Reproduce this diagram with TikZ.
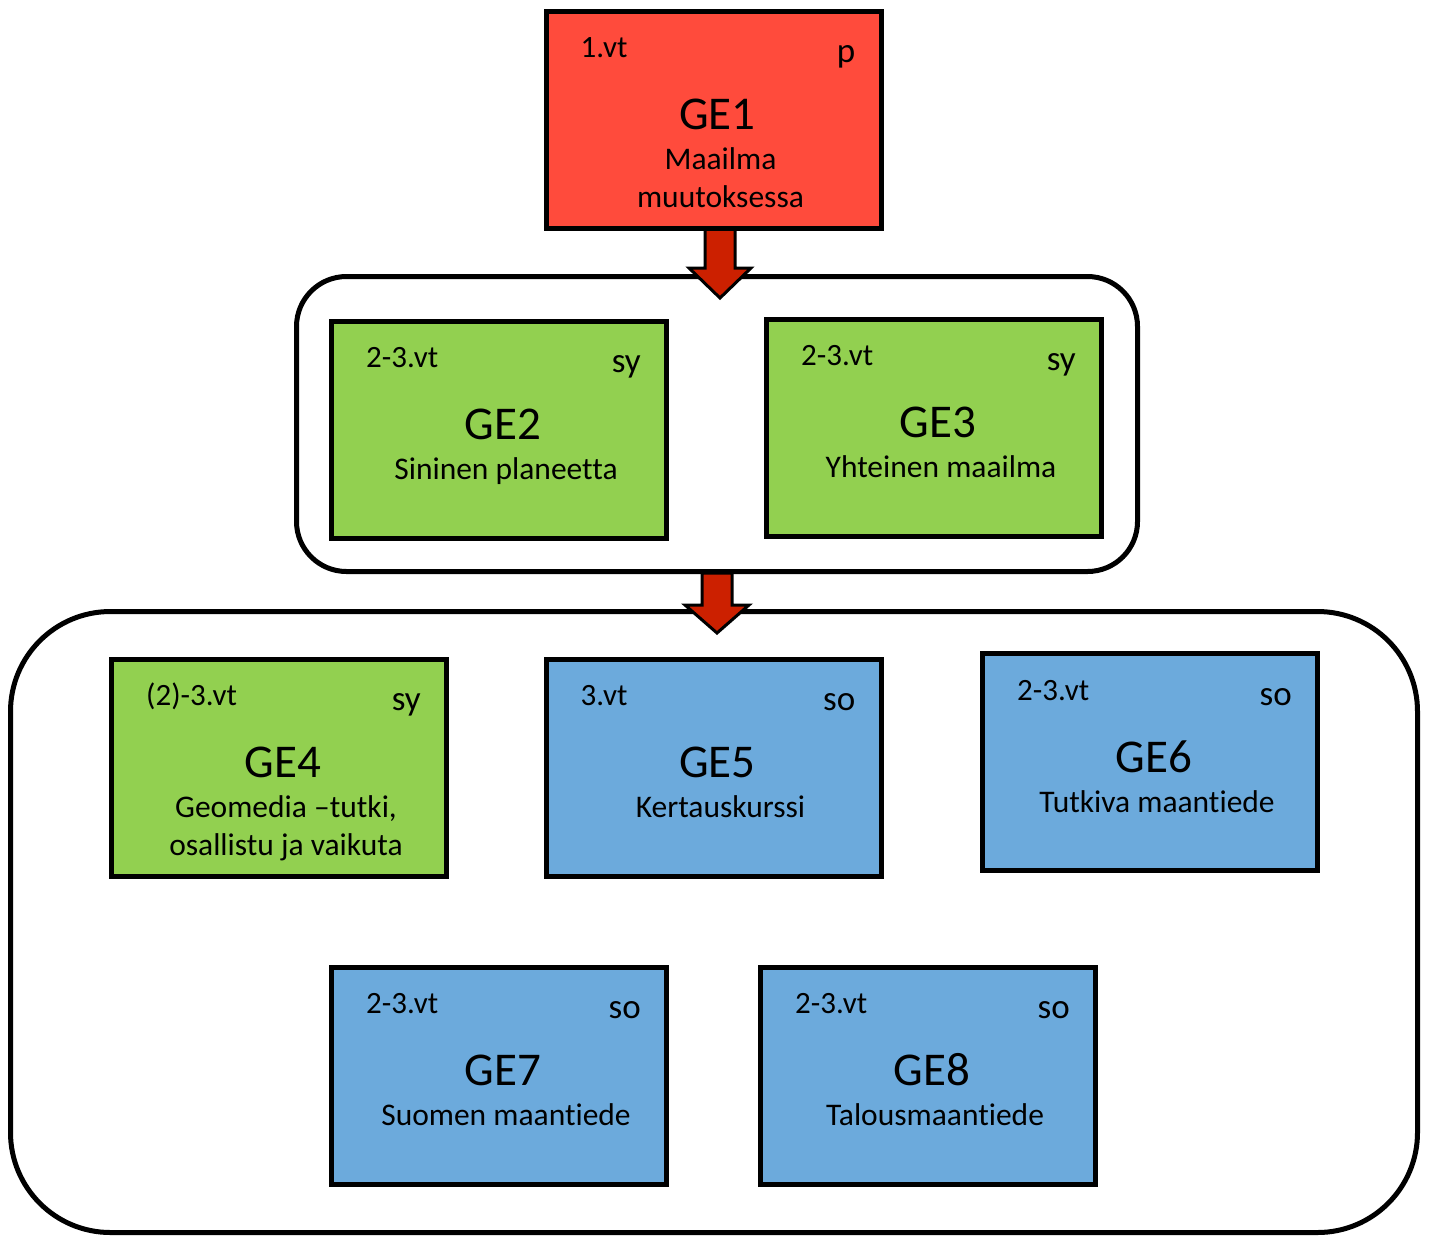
\documentclass[tikz,border=0pt]{standalone}
\usepackage{fontspec}
\setmainfont{Carlito}[Ligatures=NoCommon]
\usetikzlibrary{calc}
\definecolor{gered}{RGB}{255,75,60}
\definecolor{gegreen}{RGB}{146,208,80}
\definecolor{geblue}{RGB}{108,170,220}
\definecolor{arrowred}{RGB}{204,32,0}
\tikzset{
 gebox/.style={draw=black, line width=5pt, minimum width=335pt, minimum height=217pt, inner sep=0pt},
 grp/.style={draw=black, line width=5pt, inner sep=0pt, fill=white},
 lbl/.style={font=\fontsize{31}{36}\selectfont, inner sep=0pt, anchor=base west},
 tag/.style={font=\fontsize{35}{40}\selectfont, inner sep=0pt, anchor=base east},
 ttl/.style={font=\fontsize{47}{55}\selectfont, inner sep=0pt, anchor=base},
 sub/.style={font=\fontsize{31.5}{38}\selectfont, inner sep=0pt, anchor=base},
 blockarrow/.style={fill=arrowred, draw=black, line width=3pt, line join=miter}
}
\newcommand\gebx[8]{%
 \node[gebox,fill=#4] (#1) at (#2,#3) {};
 \node[lbl] (#1-l) at ($(#1.north west)+(37,49)$) {#5};
 \node[tag] (#1-r) at ($(#1.north east)+(-28,54)$) {#6};
 \node[ttl] (#1-t) at ($(#1.north)+(4,121)$) {#7};
 \node[sub] (#1-s) at ($(#1.north)+(7,161)$) {#8};
}
\begin{document}
\begin{tikzpicture}[x=1pt,y=-1pt]
\useasboundingbox (0,0) rectangle (1429,1235);
% groups
\node[grp, minimum width=841pt, minimum height=295pt, rounded corners=50pt] (grp1) at (717,424) {};
\node[grp, minimum width=1407pt, minimum height=621pt, rounded corners=100pt] (grp2) at (714,922) {};
% arrows
\coordinate (a1) at (720,226);
\draw[blockarrow] ($(a1)+(-15,0)$) -- ($(a1)+(-15,42)$) -- ($(a1)+(-31,42)$) -- ($(a1)+(0,72)$)
  -- ($(a1)+(31,42)$) -- ($(a1)+(15,42)$) -- ($(a1)+(15,0)$) -- cycle;
\coordinate (a2) at ($(grp1.south)+(0,-1)$);
\draw[blockarrow] ($(a2)+(-15,0)$) -- ($(a2)+(-15,32)$) -- ($(a2)+(-32,32)$) -- ($(a2)+(0,60)$)
  -- ($(a2)+(32,32)$) -- ($(a2)+(15,32)$) -- ($(a2)+(15,0)$) -- cycle;
% boxes
\gebx{ge1}{713.5}{119.5}{gered}{1.vt}{p}{GE1}{Maailma}
\node[sub] (ge1-s2) at ($(ge1.north)+(7,199)$) {muutoksessa};
\gebx{ge2}{499}{429.5}{gegreen}{2-3.vt}{sy}{GE2}{Sininen planeetta}
\gebx{ge3}{934}{427.5}{gegreen}{2-3.vt}{sy}{GE3}{Yhteinen maailma}
\gebx{ge4}{279}{767.5}{gegreen}{(2)-3.vt}{sy}{GE4}{Geomedia –tutki,}
\node[sub] (ge4-s2) at ($(ge4.north)+(7,199)$) {osallistu ja vaikuta};
\gebx{ge5}{713.5}{767.5}{geblue}{3.vt}{so}{GE5}{Kertauskurssi}
\gebx{ge6}{1150}{762}{geblue}{2-3.vt}{so}{GE6}{Tutkiva maantiede}
\gebx{ge7}{499}{1075.5}{geblue}{2-3.vt}{so}{GE7}{Suomen maantiede}
\gebx{ge8}{928}{1075.5}{geblue}{2-3.vt}{so}{GE8}{Talousmaantiede}
\end{tikzpicture}
\end{document}
